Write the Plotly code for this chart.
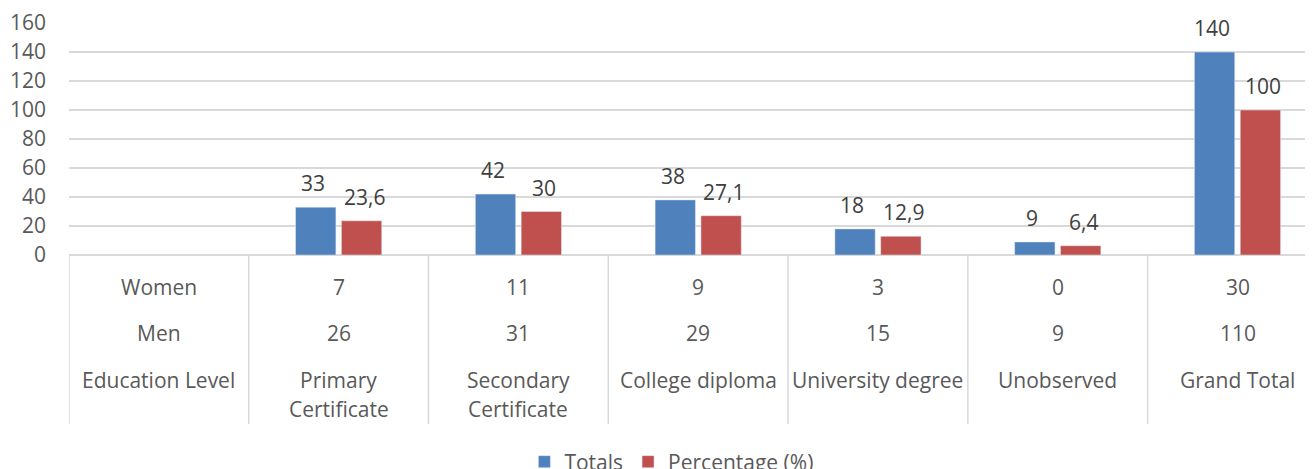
import plotly.graph_objects as go

# ---- data ----
row_headers = ["Women", "Men", "Education Level"]
categories = ["Primary\nCertificate", "Secondary\nCertificate", "College diploma",
              "University degree", "Unobserved", "Grand Total"]
totals = [33, 42, 38, 18, 9, 140]
percentages = [23.6, 30, 27.1, 12.9, 6.4, 100]
women = [7, 11, 9, 3, 0, 30]
men = [26, 31, 29, 15, 9, 110]
y_ticks = [0, 20, 40, 60, 80, 100, 120, 140, 160]

BLUE = "#4F81BD"
RED = "#C0504D"
TXT = "#595959"
GRID = "#D9D9D9"
FONT = "Open Sans"
FS = 21

# page body has an 8px margin; figure occupies window 8..1313 x 8..469
OFF = 8
W, H = 1313 - OFF, 469 - OFF
PLOT_TOP, PLOT_BOT, PLOT_LEFT = 23, 255, 69  # window pixels
ML, MT = PLOT_LEFT - OFF, PLOT_TOP - OFF
MB = H - (PLOT_BOT - OFF)
plot_h = PLOT_BOT - PLOT_TOP  # 232


def py_to_paper(py):
    # window pixel y (from top) -> paper y
    return (PLOT_BOT - py) / plot_h


def fmt(v):
    s = ("%g" % v)
    return s.replace(".", ",")


xs = list(range(1, len(categories) + 1))

fig = go.Figure()
fig.add_trace(go.Bar(name="Totals", x=xs, y=totals, marker_color=BLUE))
fig.add_trace(go.Bar(name="Percentage (%)", x=xs, y=percentages, marker_color=RED))

annotations = []
lab_font = dict(family=FONT, size=FS, color="#404040")
for xi, v in zip(xs, totals):
    annotations.append(dict(x=xi, y=v, xref="x", yref="y", text=fmt(v), showarrow=False,
                            xshift=-25.5, yshift=24, yanchor="middle", font=lab_font))
for xi, v in zip(xs, percentages):
    annotations.append(dict(x=xi, y=v, xref="x", yref="y", text=fmt(v), showarrow=False,
                            xshift=25.5, yshift=24, yanchor="middle", font=lab_font))

tab_font = dict(family=FONT, size=FS, color=TXT)
row_y = [287, 333, 380]
for hdr, yy in zip(row_headers, row_y):
    annotations.append(dict(x=0, y=py_to_paper(yy), xref="x", yref="paper", text=hdr,
                            showarrow=False, yanchor="middle", font=tab_font))
for xi, w, m, c in zip(xs, women, men, categories):
    annotations.append(dict(x=xi, y=py_to_paper(row_y[0]), xref="x", yref="paper", text=str(w),
                            showarrow=False, yanchor="middle", font=tab_font))
    annotations.append(dict(x=xi, y=py_to_paper(row_y[1]), xref="x", yref="paper", text=str(m),
                            showarrow=False, yanchor="middle", font=tab_font))
    for li, line in enumerate(c.split("\n")):
        annotations.append(dict(x=xi, y=py_to_paper(row_y[2] + 29 * li), xref="x", yref="paper",
                                text=line, showarrow=False, yanchor="middle", font=tab_font))

shapes = []
for k in range(len(categories) + 2):
    shapes.append(dict(type="line", xref="x", yref="paper", x0=k - 0.5, x1=k - 0.5,
                       y0=0, y1=py_to_paper(424), line=dict(color=GRID, width=1.5)))

fig.update_layout(
    width=W, height=H,
    margin=dict(l=ML, r=0, t=MT, b=MB, pad=0),
    plot_bgcolor="white", paper_bgcolor="white",
    barmode="group", bargap=0.49, bargroupgap=0.12,
    font=dict(family=FONT, size=FS, color=TXT),
    xaxis=dict(range=[-0.5, 6.42], showticklabels=False, showgrid=False,
               zeroline=False, showline=False, fixedrange=True),
    yaxis=dict(range=[0, 160], tickvals=y_ticks, showgrid=True, gridcolor=GRID,
               gridwidth=1.5, zeroline=True, zerolinecolor=GRID, zerolinewidth=1.5,
               showline=False, ticks="", ticklabelstandoff=22,
               tickfont=dict(family=FONT, size=FS, color=TXT)),
    showlegend=True,
    legend=dict(orientation="h", xref="container", yref="container",
                x=0.3957, xanchor="left", y=(469 - 462) / H, yanchor="middle",
                font=dict(family=FONT, size=FS, color=TXT), bgcolor="rgba(0,0,0,0)"),
    annotations=annotations,
    shapes=shapes,
)

fig.write_html("out.html")
